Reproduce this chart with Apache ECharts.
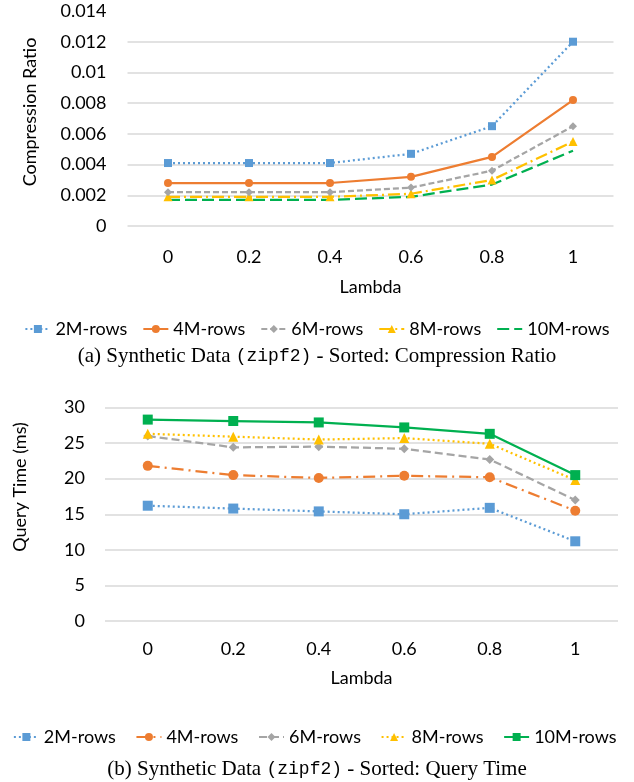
<!DOCTYPE html>
<html>
<head>
<meta charset="utf-8">
<script src="https://cdn.jsdelivr.net/npm/echarts@6/dist/echarts.min.js"></script>
<style>
html,body{margin:0;padding:0;background:#fff;}
#c{width:634px;height:782px;}
</style>
</head>
<body>
<div id="c"></div>
<script>
var lambdas = ['0', '0.2', '0.4', '0.6', '0.8', '1'];
var seriesNames = ['2M-rows', '4M-rows', '6M-rows', '8M-rows', '10M-rows'];

// (a) Compression Ratio
var cr2M  = [0.0041, 0.0041, 0.0041, 0.0047, 0.0065, 0.0120];
var cr4M  = [0.0028, 0.0028, 0.0028, 0.0032, 0.0045, 0.0082];
var cr6M  = [0.0022, 0.0022, 0.0022, 0.0025, 0.0036, 0.0065];
var cr8M  = [0.0019, 0.0019, 0.0019, 0.0021, 0.0030, 0.0055];
var cr10M = [0.0017, 0.0017, 0.0017, 0.0019, 0.0027, 0.0049];

// (b) Query Time (ms)
var qt2M  = [16.2, 15.8, 15.4, 15.0, 15.9, 11.2];
var qt4M  = [21.8, 20.5, 20.1, 20.4, 20.2, 15.5];
var qt6M  = [26.0, 24.4, 24.5, 24.2, 22.7, 17.0];
var qt8M  = [26.3, 25.9, 25.5, 25.7, 24.9, 19.8];
var qt10M = [28.3, 28.1, 27.9, 27.2, 26.3, 20.5];

var colors = ['#5B9BD5', '#ED7D31', '#A5A5A5', '#FFC000', '#00B050'];
var font = 'Lato, "Open Sans", sans-serif';

var topData = [cr2M, cr4M, cr6M, cr8M, cr10M];
var botData = [qt2M, qt4M, qt6M, qt8M, qt10M];

var topStyles = [
  {type: [2, 3], symbol: 'rect', size: 8},
  {type: 'solid', symbol: 'circle', size: 8},
  {type: [6, 3], symbol: 'diamond', size: 8},
  {type: [12, 4, 2, 4], symbol: 'triangle', size: 9},
  {type: [12, 5], symbol: 'none', size: 0}
];
var botStyles = [
  {type: [2, 3], symbol: 'rect', size: 10},
  {type: [12, 5, 2, 5], symbol: 'circle', size: 10},
  {type: [8, 4], symbol: 'diamond', size: 9},
  {type: [2, 3], symbol: 'triangle', size: 10},
  {type: 'solid', symbol: 'rect', size: 10}
];

var series = [];
seriesNames.forEach(function (n, i) {
  series.push({
    name: n, type: 'line', xAxisIndex: 0, yAxisIndex: 0,
    data: topData[i], symbol: topStyles[i].symbol, symbolSize: topStyles[i].size,
    lineStyle: {color: colors[i], width: 2.25, type: topStyles[i].type},
    itemStyle: {color: colors[i]}, z: 10 - i
  });
});
seriesNames.forEach(function (n, i) {
  series.push({
    name: n + ' ', type: 'line', xAxisIndex: 1, yAxisIndex: 1,
    data: botData[i], symbol: botStyles[i].symbol, symbolSize: botStyles[i].size,
    lineStyle: {color: colors[i], width: 2.25, type: botStyles[i].type},
    itemStyle: {color: colors[i]}, z: 5 + i
  });
});

function xAxisCfg(gi, margin, gap) {
  return {
    type: 'category', gridIndex: gi, data: lambdas, boundaryGap: true,
    axisLine: {show: false}, axisTick: {show: false},
    axisLabel: {color: '#000', fontFamily: font, fontSize: 18, margin: margin},
    name: 'Lambda', nameLocation: 'middle', nameGap: gap,
    nameTextStyle: {color: '#000', fontFamily: font, fontSize: 18}
  };
}

var legendText = {color: '#000', fontFamily: font, fontSize: 18};
var topLegendData = seriesNames.map(function (n, i) {
  return i === 4 ? {name: n, itemStyle: {opacity: 0}} : {name: n};
});

var captionRich = {
  s: {fontFamily: '"Liberation Serif", serif', fontSize: 21, fontWeight: 'normal', color: '#000'},
  m: {fontFamily: '"Liberation Mono", monospace', fontSize: 18, fontWeight: 'normal', color: '#000'}
};

function yTitle(text, cx, cy) {
  return {
    type: 'text', x: cx, y: cy, rotation: Math.PI / 2,
    style: {text: text, fill: '#000', font: '18px ' + font, align: 'center', verticalAlign: 'middle'}
  };
}

var chart = echarts.init(document.getElementById('c'), null, {renderer: 'canvas'});
chart.setOption({
  animation: false,
  backgroundColor: '#fff',
  grid: [
    {left: 127.5, width: 486, top: 11, height: 215},
    {left: 105, width: 513, top: 407.5, height: 213.5}
  ],
  xAxis: [xAxisCfg(0, 22, 52), xAxisCfg(1, 19, 48)],
  yAxis: [
    {
      type: 'value', gridIndex: 0, min: 0, max: 0.014, interval: 0.002,
      axisLine: {show: false}, axisTick: {show: false},
      axisLabel: {color: '#000', fontFamily: font, fontSize: 18, margin: 21,
        formatter: function (v) { return v === 0 ? '0' : String(+v.toFixed(3)); }},
      splitLine: {lineStyle: {color: '#D9D9D9', width: 1.5}, showMaxLine: false}
    },
    {
      type: 'value', gridIndex: 1, min: 0, max: 30, interval: 5,
      axisLine: {show: false}, axisTick: {show: false},
      axisLabel: {color: '#000', fontFamily: font, fontSize: 18, margin: 20},
      splitLine: {lineStyle: {color: '#D9D9D9', width: 1.5}}
    }
  ],
  graphic: [
    yTitle('Compression Ratio', 30, 112),
    yTitle('Query Time (ms)', 20, 487)
  ],
  legend: [
    {
      data: topLegendData, top: 315, left: 'center', itemWidth: 25, itemHeight: 10, itemGap: 15,
      textStyle: legendText
    },
    {
      data: seriesNames.map(function (n) { return n + ' '; }), top: 723, left: 'center',
      itemWidth: 25, itemHeight: 10, itemGap: 15,
      textStyle: legendText
    }
  ],
  title: [
    {
      text: '{s|(a) Synthetic Data }{m|(zipf2)}{s| - Sorted: Compression Ratio}',
      left: 'center', top: 341,
      textStyle: {rich: captionRich}
    },
    {
      text: '{s|(b) Synthetic Data }{m|(zipf2)}{s| - Sorted: Query Time}',
      left: 'center', top: 754,
      textStyle: {rich: captionRich}
    }
  ],
  series: series
});
</script>
</body>
</html>
